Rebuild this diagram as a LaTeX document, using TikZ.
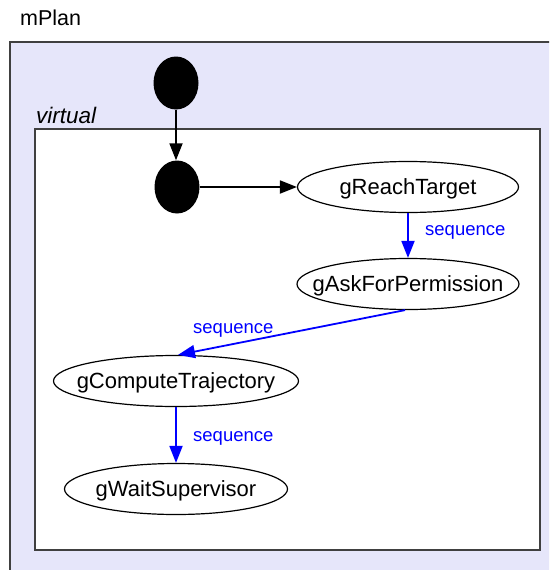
\documentclass[tikz,border=0pt]{standalone}
\usepackage{fontspec}
\setmainfont{Liberation Sans}
\usetikzlibrary{arrows.meta,shapes.geometric}
\definecolor{clusterfill}{RGB}{230,230,250}
\definecolor{seqblue}{RGB}{0,0,255}
\tikzset{
  goal/.style={draw=black, line width=1.2pt, ellipse, fill=white,
    minimum width=#1, minimum height=51pt, inner sep=0pt},
  goaltext/.style={inner sep=0pt, font=\fontsize{22}{24}\selectfont},
  dot/.style={ellipse, fill=black, minimum width=45pt, minimum height=53pt, inner sep=0pt},
  flow/.style={draw=black, line width=1.8pt, -{Triangle[length=17pt,width=13pt]}},
  seq/.style={draw=seqblue, line width=1.8pt, -{Triangle[length=17pt,width=13pt]}},
  seqlabel/.style={text=seqblue, font=\fontsize{18.5}{20}\selectfont, inner sep=0pt},
  frame/.style={draw=black!75, line width=1.6pt},
}
\begin{document}
\begin{tikzpicture}[x=1pt,y=-1pt]
  \useasboundingbox (0,0) rectangle (549,570);
  \clip (0,0) rectangle (549,570);

  % outer plan cluster
  \node[anchor=west, inner sep=0pt, font=\fontsize{21.5}{24}\selectfont] (plan) at (20,18) {mPlan};
  \path[frame, fill=clusterfill] (10,42) rectangle (600,620);

  % inner virtual cluster
  \node[anchor=west, inner sep=0pt, font=\fontsize{22.5}{24}\selectfont\itshape] (virt) at (36,115) {virtual};
  \path[frame, fill=white] (35,129) rectangle (540,550);

  % start states
  \node[dot] (s0) at (176,83) {};
  \node[dot] (s1) at (177,187) {};

  % goals: the ellipses carry no text, the labels sit on their centres
  \node[goal=221pt] (reach) at (408,187) {};
  \node[goal=222pt] (ask) at (408,284) {};
  \node[goal=245pt] (compute) at (176,381) {};
  \node[goal=223pt] (wait) at (176,489) {};
  \node[goaltext] (reachtext) at ([yshift=-1.5pt]reach.center) {gReachTarget};
  \node[goaltext] (asktext) at ([yshift=-1.5pt]ask.center) {gAskForPermission};
  \node[goaltext] (computetext) at ([yshift=-1.5pt]compute.center) {gComputeTrajectory};
  \node[goaltext] (waittext) at ([yshift=-1.5pt]wait.center) {gWaitSupervisor};

  % connectors
  \draw[flow] (s0.south) -- (s0.south |- s1.north);
  \draw[flow] (s1.east) -- (reach.west);
  \draw[seq] (reach.south) -- (ask.north);
  \draw[seq] ([xshift=-3pt]ask.south) -- ([xshift=2pt]compute.north);
  \draw[seq] (compute.south) -- (wait.north);

  % edge labels
  \node[seqlabel, anchor=west] (l1) at (425,232) {sequence};
  \node[seqlabel, anchor=west] (l2) at (193,330) {sequence};
  \node[seqlabel, anchor=west] (l3) at (193,438) {sequence};
\end{tikzpicture}
\end{document}
